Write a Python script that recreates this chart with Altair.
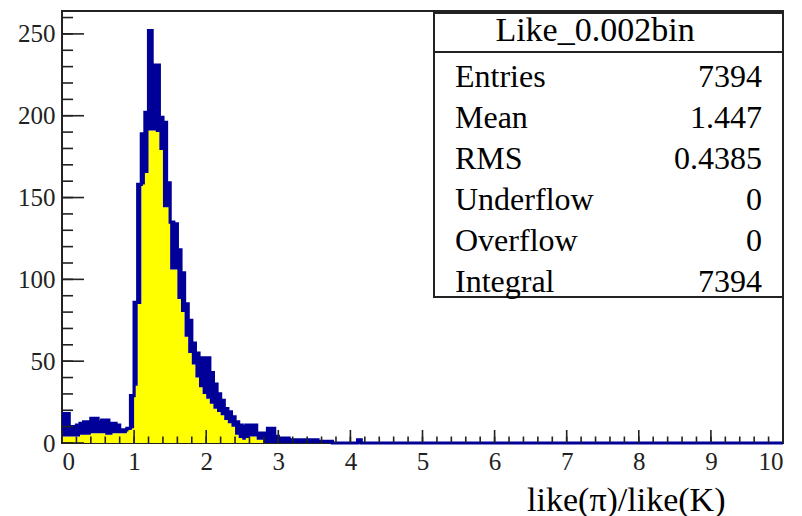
import altair as alt
import pandas as pd

# Histogram of like(pi)/like(K): 0.05-wide bins starting at 0.
# "upper" is the top of the fluctuating outline in each bin, "lower" the
# bottom of it (top of the filled part).
bin_width = 0.05
upper = [18, 18, 10, 10, 11, 12, 13, 13, 15, 15,
         13, 14, 14, 12, 12, 11, 8, 8, 9, 29,
         86, 158, 189, 202, 252, 231, 231, 199, 196, 159,
         135, 134, 118, 104, 85, 75, 61, 55, 52, 52,
         52, 43, 36, 30, 26, 21, 19, 16, 13, 11,
         10, 11, 11, 11, 6, 6, 6, 9, 9, 4,
         3, 3, 3, 2, 2, 2, 2, 2, 2, 2,
         2, 1, 1, 1, 1, 0, 0, 0, 0, 0,
         0, 0, 2, 0, 0, 0, 0, 0, 0, 0]
lower = [4, 4, 4, 4, 4, 5, 5, 5, 6, 6,
         6, 6, 5, 5, 6, 6, 6, 6, 8, 9,
         35, 85, 158, 165, 191, 191, 190, 179, 144, 144,
         106, 106, 88, 80, 65, 55, 48, 40, 34, 30,
         27, 24, 21, 19, 17, 14, 12, 10, 5, 3,
         2, 3, 4, 4, 2, 2, 0, 0, 0, 0,
         0, 0, 0, 0, 0, 0, 0, 0, 0, 0,
         0, 0, 0, 0, 0, 0, 0, 0, 0, 0,
         0, 0, 0, 0, 0, 0, 0, 0, 0, 0]
x_max = 10.0  # all bins past the listed ones are empty up to here
y_max = 264

# Statistics box
stats_title = "Like_0.002bin"
stats_labels = ["Entries", "Mean", "RMS", "Underflow", "Overflow", "Integral"]
stats_values = ["7394", "1.447", "0.4385", "0", "0", "7394"]

# Axis ticks
x_major = list(range(0, 11))
x_minor = [round(0.2 * i, 1) for i in range(51)]
y_major = list(range(0, 251, 50))
y_minor = list(range(0, 261, 10))

W, H = 721, 432
NAVY = "#000099"
SERIF = "Liberation Serif, Times New Roman, serif"

edges = [round(i * bin_width, 3) for i in range(len(upper))] + [x_max]
hist = pd.DataFrame({
    "x": edges,
    "upper": upper + [0],
    "lower": lower + [0],
})

xscale = alt.Scale(domain=[0, x_max], nice=False, zero=False)
yscale = alt.Scale(domain=[0, y_max], nice=False, zero=True)

x_axis = alt.Axis(
    values=x_major, format="d", tickSize=0, domain=False, grid=False,
    labelBaseline="top", labelPadding=6,
    title="like(π)/like(K)",
    titleAnchor="end", titleAlign="right", titleAngle=0,
    titleX=663, titleY=67, titleBaseline="alphabetic",
)
y_axis = alt.Axis(
    values=y_major, format="d", tickSize=0, domain=False, grid=False,
    labelAlign="right", labelBaseline="middle", labelPadding=7,
    title=None,
)


def xenc(field):
    return alt.X(field, scale=xscale, axis=x_axis)


def yenc(field):
    return alt.Y(field, scale=yscale, axis=y_axis)


fill = alt.Chart(hist).mark_area(interpolate="step-after", color="#ffff00").encode(
    x=xenc("x:Q"),
    y=yenc("lower:Q"),
    y2=alt.Y2(datum=0),
)
band = alt.Chart(hist).mark_area(interpolate="step-after", color=NAVY).encode(
    x=xenc("x:Q"),
    y=yenc("upper:Q"),
    y2="lower:Q",
)
outline = alt.Chart(hist).mark_line(
    interpolate="step-after", color=NAVY, strokeWidth=3.2
).encode(
    x=xenc("x:Q"),
    y=yenc("upper:Q"),
)

tick_color = "#222"
xt_major = alt.Chart(pd.DataFrame({"t": x_major})).mark_rule(
    color=tick_color, strokeWidth=1.6
).encode(x=xenc("t:Q"), y=alt.value(H), y2=alt.value(H - 13))
xt_minor = alt.Chart(pd.DataFrame({"t": x_minor})).mark_rule(
    color=tick_color, strokeWidth=1.6
).encode(x=xenc("t:Q"), y=alt.value(H), y2=alt.value(H - 6.5))
yt_major = alt.Chart(pd.DataFrame({"t": y_major})).mark_rule(
    color=tick_color, strokeWidth=1.6
).encode(y=yenc("t:Q"), x=alt.value(0), x2=alt.value(22))
yt_minor = alt.Chart(pd.DataFrame({"t": y_minor})).mark_rule(
    color=tick_color, strokeWidth=1.6
).encode(y=yenc("t:Q"), x=alt.value(0), x2=alt.value(11))

# Statistics box in the upper right corner
box_left, box_top, box_bottom = 372, 2, 286
box = alt.Chart(pd.DataFrame({"k": [0]})).mark_rect(
    fill="white", stroke="#222", strokeWidth=2
).encode(
    x=alt.value(box_left), x2=alt.value(W),
    y=alt.value(box_top), y2=alt.value(box_bottom),
)
separator = alt.Chart(pd.DataFrame({"k": [0]})).mark_rule(
    color="#222", strokeWidth=2
).encode(x=alt.value(box_left), x2=alt.value(W), y=alt.value(41))
title_text = alt.Chart(pd.DataFrame({"t": [stats_title]})).mark_text(
    font=SERIF, fontSize=34, color="#000", align="center", baseline="alphabetic"
).encode(x=alt.value(533), y=alt.value(30), text="t:N")

rows = pd.DataFrame({
    "label": stats_labels,
    "value": stats_values,
    "py": [76 + 41 * i for i in range(len(stats_labels))],
})
row_labels = alt.Chart(rows).mark_text(
    font=SERIF, fontSize=32, color="#000", align="left", baseline="alphabetic"
).encode(x=alt.value(393), y=alt.Y("py:Q", scale=None, axis=None), text="label:N")
row_values = alt.Chart(rows).mark_text(
    font=SERIF, fontSize=32, color="#000", align="right", baseline="alphabetic"
).encode(x=alt.value(700), y=alt.Y("py:Q", scale=None, axis=None), text="value:N")

chart = alt.layer(
    fill, band, outline,
    xt_minor, xt_major, yt_minor, yt_major,
    box, separator, title_text, row_labels, row_values,
).properties(
    width=W, height=H,
    padding={"left": 62, "top": 11, "right": 19, "bottom": 73},
    autosize=alt.AutoSizeParams(type="none"),
    background="white",
).configure_view(
    stroke="#222", strokeWidth=2
).configure_axis(
    labelFont=SERIF, labelFontSize=25, labelColor="#222",
    titleFont=SERIF, titleFontSize=34, titleFontWeight="normal", titleColor="#000",
)

chart.save("out.html", embed_options={"renderer": "svg", "actions": False})
